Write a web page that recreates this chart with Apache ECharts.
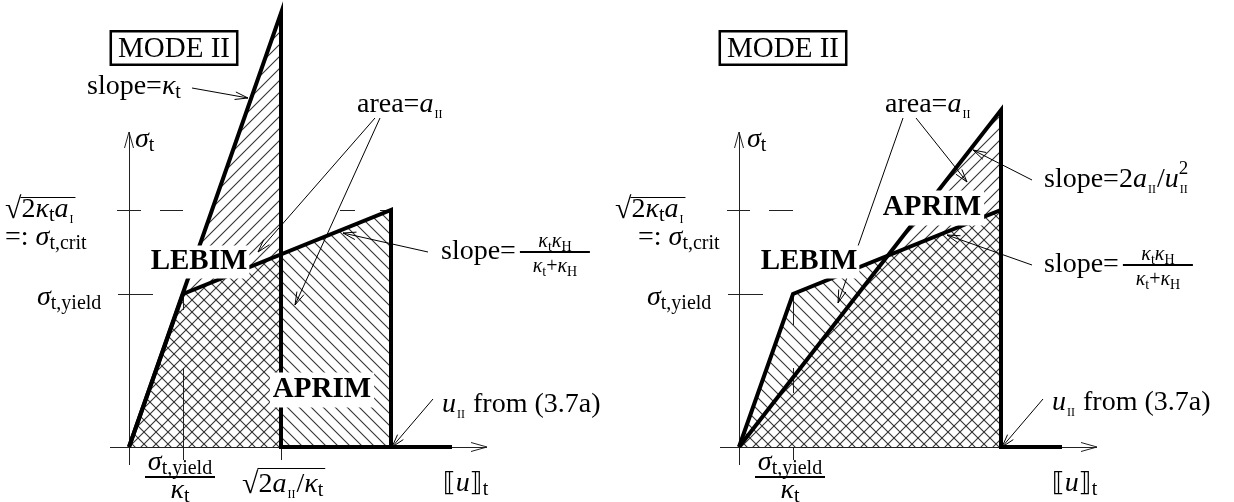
<!DOCTYPE html>
<html><head><meta charset="utf-8">
<script src="https://cdn.jsdelivr.net/npm/echarts@6/dist/echarts.min.js"></script>
<style>html,body{margin:0;padding:0;background:#fff}#c{width:1234px;height:502px}</style>
</head><body><div id="c"></div>
<script>
// ---------- DATA (abstract units: u on x, sigma on y) ----------
const uYield = 54, sigmaYield = 153, sigmaCrit = 237;
const uII = 262;              // u_II from (3.7a)
const uSqrt = 152;            // sqrt(2 a_II / kappa_t)
const uEnd = 323;             // end of the bold tail on the axis
const lebimCurve      = [[0,0],[54,153],[262,237],[262,0],[323,0]];
const aprimCurveLeft  = [[0,0],[152,434],[152,0],[323,0]];
const aprimCurveRight = [[0,0],[262,337],[262,0],[323,0]];
const lebimArea       = [[0,0],[54,153],[262,237],[262,0]];
const aprimAreaLeft   = [[0,0],[152,434],[152,0]];
const aprimAreaRight  = [[0,0],[262,337],[262,0]];
const xAxisExtent = [-19, 358];
const yAxisExtent = [-18, 315];
const yieldTick = [-11, 24];
const critDashesLeft  = [[-12,12],[31,54],[211,226],[251,263]];
const critDashesRight = [[-12,11],[30,54]];
const yieldVDashesLeft  = [[-13,79],[137,153]];
const yieldVDashesRight = [[-13,0],[54,79],[122,154]];
const arrowsLeft  = [[[63,359],[119,349]],[[246,329],[129,195]],[[251,329],[166,142]],[[299,195],[214,214]],[[304,48],[263,0]]];
const arrowsRight = [[[164,329],[99,144]],[[177,329],[228,265]],[[293,267],[234,297]],[[293,182],[208,212]],[[304,48],[263,0]]];
// tick / annotation labels
const yTickLabels = ['{i|σ}{s|t,yield}', '{r|=: }{i|σ}{s|t,crit}', '{rad|√}{r|2}{i|κ}{s|t}{i|a}{ss|I}'];
const xTickLabels = ['{i|σ}{s|t,yield}', '{i|κ}{s|t}', '{rad|√}{r|2}{i|a}{ss|II}{r|/}{i|κ}{s|t}'];
const axisTitles = ['{br|⟦}{i|u}{br|⟧}{s|t}', '{i|σ}{s|t}'];
const modeTitle = 'MODE II';
const modelNames = ['LEBIM', 'APRIM'];
const notes = {
  slopeKt: '{r|slope=}{i|κ}{s|t}',
  area: '{r|area=}{i|a}{ss|II}',
  slopeEq: '{r|slope=}',
  fracNum: '{fi|κ}{fs|t}{fi|κ}{fs|H}',
  fracDen: '{fi|κ}{fs|t}{fr|+}{fi|κ}{fs|H}',
  slope2a: '{r|slope=2}{i|a}{ss|II}{r|/}{i|u}{sup|2}',
  slope2aBase: '{r|slope=2}{i|a}{ss|II}{r|/}{i|u}',
  uFrom: '{i|u}{ss|II}{r| from (3.7a)}'
};

// ---------- STYLE ----------
const SERIF = '"Liberation Serif","DejaVu Serif",serif';
const RICH = {
  r:{fontSize:28,fontFamily:SERIF,fill:'#000'},
  i:{fontSize:28,fontFamily:SERIF,fontStyle:'italic',fill:'#000'},
  s:{fontSize:20,fontFamily:SERIF,fill:'#000',padding:[12,0,0,0]},
  ss:{fontSize:12,fontFamily:SERIF,fill:'#000',padding:[20,1,0,1]},
  sup:{fontSize:19,fontFamily:SERIF,fill:'#000',padding:[0,0,22,0]},
  rad:{fontSize:30,fontFamily:SERIF,fill:'#000'},
  br:{fontSize:26,fontFamily:'"DejaVu Sans","DejaVu Serif"',fill:'#000'},
  fi:{fontSize:20,fontFamily:SERIF,fontStyle:'italic',fill:'#000'},
  fr:{fontSize:20,fontFamily:SERIF,fill:'#000'},
  fs:{fontSize:14,fontFamily:SERIF,fill:'#000',padding:[10,0,0,0]}
};
const AX = '#222';

function hatch(dir){
  const s=12, c=document.createElement('canvas'); c.width=s; c.height=s;
  const g=c.getContext('2d'); g.strokeStyle='#333'; g.lineWidth=1.1; g.beginPath();
  if(dir==='/'){ g.moveTo(0,s); g.lineTo(s,0); g.moveTo(-2,2); g.lineTo(2,-2); g.moveTo(s-2,s+2); g.lineTo(s+2,s-2); }
  else { g.moveTo(0,0); g.lineTo(s,s); g.moveTo(s-2,-2); g.lineTo(s+2,2); g.moveTo(-2,s-2); g.lineTo(2,s+2); }
  g.stroke(); return c;
}
const PAT_A = hatch('/'), PAT_L = hatch('\\');

function tw(text, extra){
  const t = new echarts.graphic.Text({style:Object.assign({text, rich:RICH, fontSize:28, fontFamily:SERIF}, extra||{})});
  return t.getBoundingRect().width;
}
function segEl(p,q,w,color){
  let x1=p[0],y1=p[1],x2=q[0],y2=q[1];
  if(w%2===1){ if(x1===x2){x1=x2=Math.round(x1)+0.5;} if(y1===y2){y1=y2=Math.round(y1)+0.5;} }
  return {type:'line',shape:{x1,y1,x2,y2},style:{stroke:color,lineWidth:w,fill:'none'}};
}
function arrowEls(p,q,len,half,w,color){
  const dx=q[0]-p[0], dy=q[1]-p[1], L=Math.hypot(dx,dy), ux=dx/L, uy=dy/L;
  const bx=q[0]-ux*len, by=q[1]-uy*len, nx=-uy, ny=ux;
  return [segEl(p,q,w,color),
    {type:'polyline',shape:{points:[[bx+nx*half,by+ny*half],[q[0],q[1]],[bx-nx*half,by-ny*half]]},style:{stroke:color,lineWidth:w,fill:'none'}}];
}
function txt(p, text, align, extra){
  return {type:'text', x:p[0], y:p[1], style:Object.assign({text, rich:RICH, fontSize:28, fontFamily:SERIF, fill:'#000', align:align||'left', verticalAlign:'middle'}, extra||{})};
}

const panels = [
  {g:0, aprimCurve:aprimCurveLeft, aprimArea:aprimAreaLeft, critDash:critDashesLeft, vDash:yieldVDashesLeft, arrows:arrowsLeft, right:false},
  {g:1, aprimCurve:aprimCurveRight, aprimArea:aprimAreaRight, critDash:critDashesRight, vDash:yieldVDashesRight, arrows:arrowsRight, right:true}
];

const series = [];
panels.forEach(P => {
  const g = P.g;
  const base = {xAxisIndex:g, yAxisIndex:g, silent:true, animation:false};
  // hatched areas
  series.push(Object.assign({type:'custom', data:[[0,0]], z:1, renderItem:(pa,api)=>({type:'polygon',shape:{points:lebimArea.map(v=>api.coord(v))},style:{fill:{image:PAT_L,repeat:'repeat'},stroke:'none'}})}, base));
  series.push(Object.assign({type:'custom', data:[[0,0]], z:1, renderItem:(pa,api)=>({type:'polygon',shape:{points:P.aprimArea.map(v=>api.coord(v))},style:{fill:{image:PAT_A,repeat:'repeat'},stroke:'none'}})}, base));
  // decor: axes, ticks, dashes, arrows
  series.push(Object.assign({type:'custom', data:[[0,0]], z:3, renderItem:(pa,api)=>{
    const C=v=>api.coord(v), ch=[];
    ch.push(...arrowEls(C([xAxisExtent[0],0]),C([xAxisExtent[1],0]),16,4.5,1,AX));
    ch.push(...arrowEls(C([0,yAxisExtent[0]]),C([0,yAxisExtent[1]]),16,4.5,1,AX));
    ch.push(segEl(C([yieldTick[0],sigmaYield]),C([yieldTick[1],sigmaYield]),1,AX));
    P.critDash.forEach(d=>ch.push(segEl(C([d[0],sigmaCrit]),C([d[1],sigmaCrit]),1,AX)));
    P.vDash.forEach(d=>ch.push(segEl(C([uYield,d[0]]),C([uYield,d[1]]),1,AX)));
    if(!P.right) ch.push(segEl(C([uSqrt,-13]),C([uSqrt,0]),1,AX));
    P.arrows.forEach(a=>ch.push(...arrowEls(C(a[0]),C(a[1]),13,3.8,1,'#000')));
    return {type:'group',children:ch};
  }}, base));
  // bold curves
  series.push(Object.assign({type:'line', data:lebimCurve, symbol:'none', z:5, lineStyle:{color:'#000',width:4,join:'miter',cap:'butt'}}, base));
  series.push(Object.assign({type:'line', data:P.aprimCurve, symbol:'none', z:5, lineStyle:{color:'#000',width:4,join:'miter',cap:'butt'}}, base));
  // labels
  series.push(Object.assign({type:'custom', data:[[0,0]], z:10, renderItem:(pa,api)=>{
    const C=v=>api.coord(v), ch=[], R=P.right;
    // title box
    ch.push(txt(C([R?44:45,399]), modeTitle, 'center', {fontSize:29, backgroundColor:'#fff', borderColor:'#000', borderWidth:2.5, padding:[2,6,0,6]}));
    // y axis title
    ch.push(txt(C([R?8:6,307]), axisTitles[1]));
    // y tick labels
    const sq = C([-124,237]);
    ch.push(txt(sq, yTickLabels[2]));
    const wr = tw('{rad|√}'), wt = tw(yTickLabels[2]);
    ch.push(segEl([sq[0]+wr-1, sq[1]-13],[sq[0]+wt+2, sq[1]-13],1,'#000'));
    ch.push(txt(C([R?-101:-124,209]), yTickLabels[1]));
    ch.push(txt(C([-92,149]), yTickLabels[0]));
    // x tick labels (fraction)
    ch.push(txt(C([51,-16]), xTickLabels[0], 'center'));
    ch.push(segEl(C([16,-30]),C([86,-30]),2,'#000'));
    ch.push(txt(C([51,-44]), xTickLabels[1], 'center'));
    if(!R){
      const xs = C([113,-38]);
      ch.push(txt(xs, xTickLabels[2]));
      const w1 = tw('{rad|√}'), w2 = tw(xTickLabels[2]);
      ch.push(segEl([xs[0]+w1-1, xs[1]-17],[xs[0]+w2+2, xs[1]-17],1,'#000'));
    }
    ch.push(txt(C([R?313:314,-37]), axisTitles[0]));
    // model names
    ch.push(txt(C([70,185]), modelNames[0], 'center', {fontSize:29, fontWeight:'bold', backgroundColor:'#fff', padding:[2,2,2,2]}));
    ch.push(txt(C(R?[193,239]:[193,57]), modelNames[1], 'center', {fontSize:29, fontWeight:'bold', backgroundColor:'#fff', padding:[3,3,3,3]}));
    // notes
    ch.push(txt(C(R?[146,342]:[228,342]), notes.area));
    ch.push(txt(C([313,R?44:42]), notes.uFrom));
    const sx = R?305:312, sy = R?182:195;
    const sp = C([sx,sy]);
    ch.push(txt(sp, notes.slopeEq));
    const ws = tw(notes.slopeEq);
    const fx0 = sp[0]+ws+4, fx1 = fx0+70, fc = (fx0+fx1)/2;
    ch.push(segEl([fx0,sp[1]],[fx1,sp[1]],2,'#000'));
    ch.push(txt([fc,sp[1]-10], notes.fracNum, 'center'));
    ch.push(txt([fc,sp[1]+15], notes.fracDen, 'center'));
    if(R){
      const p2 = C([305,267]);
      ch.push(txt(p2, notes.slope2a));
      const wb = tw(notes.slope2aBase);
      ch.push(txt([p2[0]+wb+1, p2[1]+10], 'II', 'left', {fontSize:12}));
    } else {
      ch.push(txt(C([-42,360]), notes.slopeKt));
    }
    return {type:'group',children:ch};
  }}, base));
});

const chart = echarts.init(document.getElementById('c'), null, {renderer:'canvas'});
chart.setOption({
  animation:false,
  backgroundColor:'#fff',
  grid:[{left:89,top:0,width:520,height:502},{left:699,top:0,width:520,height:502}],
  xAxis:[{type:'value',gridIndex:0,min:-40,max:480,show:false},{type:'value',gridIndex:1,min:-40,max:480,show:false}],
  yAxis:[{type:'value',gridIndex:0,min:-55,max:447,show:false},{type:'value',gridIndex:1,min:-55,max:447,show:false}],
  series
});
</script></body></html>
